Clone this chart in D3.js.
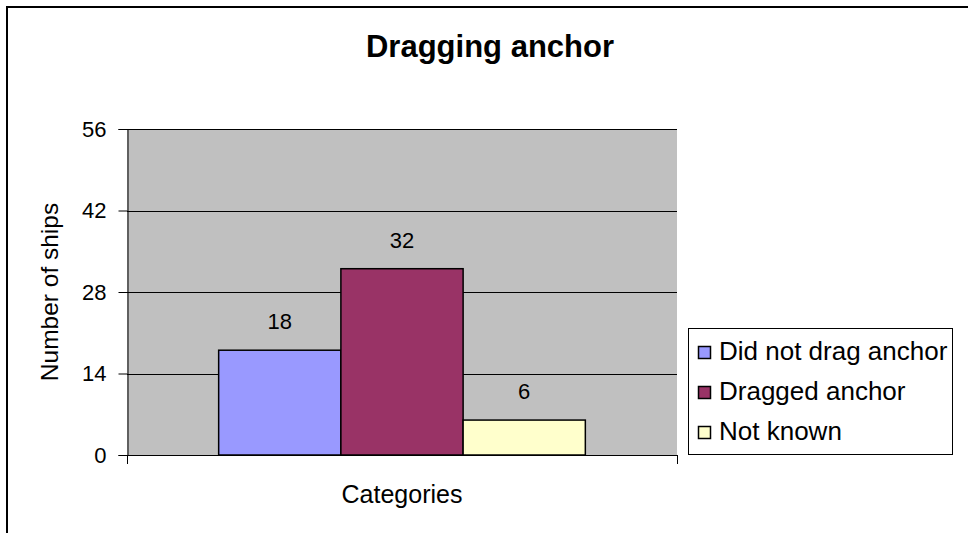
<!DOCTYPE html>
<html>
<head>
<meta charset="utf-8">
<script src="https://cdn.jsdelivr.net/npm/d3@7/dist/d3.min.js"></script>
<style>
  html, body { margin: 0; padding: 0; background: #fff; }
  svg { display: block; }
  text { font-family: "Liberation Sans", Arial, sans-serif; fill: #000; }
</style>
</head>
<body>
<svg id="chart" width="968" height="533"></svg>
<script>
// Chart data
const categories = ["Categories"];
const seriesNames = ["Did not drag anchor", "Dragged anchor", "Not known"];
const seriesValues = [18, 32, 6];
const seriesColors = ["#9999ff", "#993366", "#ffffcc"];
const yTicks = [0, 14, 28, 42, 56];

const svg = d3.select("#chart");

// Outer chart frame (runs off the right and bottom edges)
svg.append("rect")
  .attr("x", 7).attr("y", 7)
  .attr("width", 1000).attr("height", 600)
  .attr("fill", "#fff").attr("stroke", "#000").attr("stroke-width", 2);

const plot = { left: 127, right: 677, top: 129, bottom: 455 };

const y = d3.scaleLinear().domain([0, 56]).range([plot.bottom, plot.top]);
const x0 = d3.scaleBand().domain(categories)
  .range([plot.left, plot.right]).paddingOuter(0.25).paddingInner(0);
const x1 = d3.scaleBand().domain(seriesNames).range([0, x0.bandwidth()]);

// Plot area background
svg.append("rect")
  .attr("x", plot.left).attr("y", plot.top)
  .attr("width", plot.right - plot.left).attr("height", plot.bottom - plot.top)
  .attr("fill", "#c0c0c0");

// Horizontal gridlines
svg.append("g").selectAll("line")
  .data(yTicks.filter(d => d > 0))
  .join("line")
  .attr("x1", plot.left).attr("x2", plot.right)
  .attr("y1", d => Math.round(y(d)) + 0.5).attr("y2", d => Math.round(y(d)) + 0.5)
  .attr("stroke", "#000").attr("stroke-width", 1);

// Bars
const rows = seriesNames.map((name, i) => ({ name, value: seriesValues[i], color: seriesColors[i] }));
const group = svg.append("g").attr("transform", `translate(${x0(categories[0])},0)`);
group.selectAll("rect")
  .data(rows)
  .join("rect")
  .attr("x", d => x1(d.name))
  .attr("y", d => y(d.value))
  .attr("width", x1.bandwidth())
  .attr("height", d => y(0) - y(d.value))
  .attr("fill", d => d.color)
  .attr("stroke", "#000").attr("stroke-width", 1.5);

// Value labels
group.selectAll("text.value")
  .data(rows)
  .join("text")
  .attr("class", "value")
  .attr("x", d => x1(d.name) + x1.bandwidth() / 2)
  .attr("y", d => y(d.value) - 21)
  .attr("text-anchor", "middle")
  .attr("font-size", 22)
  .text(d => d.value);

// Value axis
const yAxis = d3.axisLeft(y).tickValues(yTicks).tickSize(9).tickPadding(12);
const yg = svg.append("g").attr("transform", `translate(${plot.left + 0.5},0)`).call(yAxis);
yg.select(".domain").attr("stroke", "#000").attr("stroke-width", 1);
yg.selectAll(".tick line").attr("stroke", "#000");
yg.selectAll(".tick text").attr("font-size", 22).attr("font-family", "Liberation Sans, Arial, sans-serif").attr("fill", "#000");

// Category axis
svg.append("line")
  .attr("x1", plot.left).attr("x2", plot.right + 1)
  .attr("y1", plot.bottom + 0.5).attr("y2", plot.bottom + 0.5)
  .attr("stroke", "#000");
svg.append("g").selectAll("line")
  .data([plot.left, plot.right])
  .join("line")
  .attr("x1", d => d + 0.5).attr("x2", d => d + 0.5)
  .attr("y1", plot.bottom).attr("y2", plot.bottom + 9)
  .attr("stroke", "#000");

// Title and axis titles
svg.append("text")
  .attr("x", 490).attr("y", 57)
  .attr("text-anchor", "middle")
  .attr("font-size", 31).attr("font-weight", "bold")
  .text("Dragging anchor");

svg.append("text")
  .attr("x", 402).attr("y", 503)
  .attr("text-anchor", "middle")
  .attr("font-size", 25)
  .text(categories[0]);

svg.append("text")
  .attr("transform", `translate(58,${(plot.top + plot.bottom) / 2}) rotate(-90)`)
  .attr("text-anchor", "middle")
  .attr("font-size", 24.5)
  .text("Number of ships");

// Legend
const legend = svg.append("g");
legend.append("rect")
  .attr("x", 688.5).attr("y", 328.5)
  .attr("width", 264).attr("height", 126)
  .attr("fill", "#fff").attr("stroke", "#000").attr("stroke-width", 1);
const items = legend.selectAll("g.item")
  .data(rows)
  .join("g")
  .attr("class", "item")
  .attr("transform", (d, i) => `translate(0,${360 + i * 40})`);
items.append("rect")
  .attr("x", 698.5).attr("y", -13.5)
  .attr("width", 12).attr("height", 12)
  .attr("fill", d => d.color).attr("stroke", "#000").attr("stroke-width", 1.5);
items.append("text")
  .attr("x", 719).attr("y", 0)
  .attr("font-size", 26)
  .text(d => d.name);
</script>
</body>
</html>
